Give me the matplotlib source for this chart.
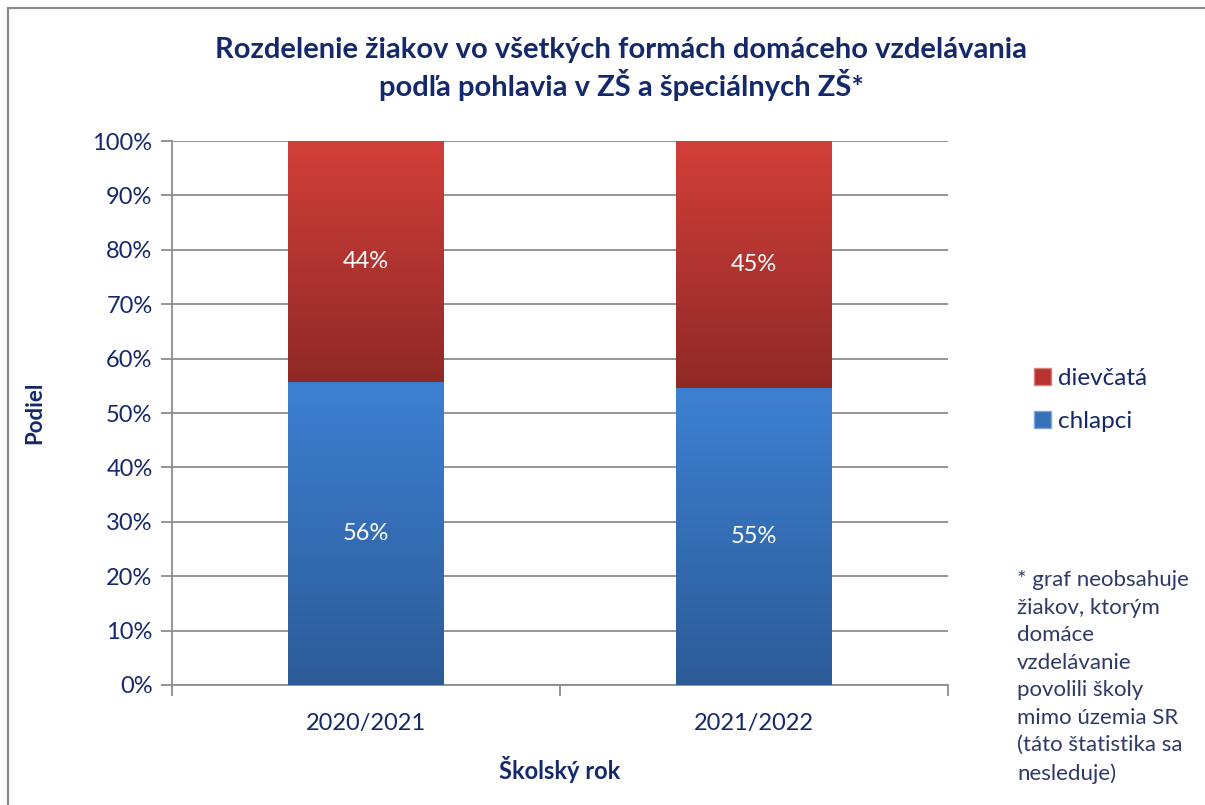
import numpy as np
import matplotlib.pyplot as plt
from matplotlib.patches import Rectangle, Patch

plt.rcParams['font.family'] = ['Lato', 'DejaVu Sans']

roky = ['2020/2021', '2021/2022']
chlapci = [55.7, 54.6]
dievcata = [44.3, 45.4]

NAVY = '#13296b'
GRID = '#8c8c8c'

fig = plt.figure(figsize=(12.05, 8.05), dpi=100)
ax = fig.add_axes([0.1427, 0.1491, 0.6440, 0.6757])

# ramik grafu
fig.patches.append(Rectangle((8 / 1205, -0.1), 1.2, (805 - 8) / 805 + 0.1,
                             transform=fig.transFigure, fill=False,
                             edgecolor='#8a8a8a', linewidth=1.6))


def gradient_bar(x, bottom, height, top_col, bot_col, width=0.4):
    bar = ax.bar(x, height, width, bottom=bottom, color=bot_col, zorder=3)[0]
    c1 = np.array(plt.matplotlib.colors.to_rgb(top_col))
    c2 = np.array(plt.matplotlib.colors.to_rgb(bot_col))
    t = np.linspace(0, 1, 256)[:, None]
    img = (c1 * (1 - t) + c2 * t)[:, None, :]
    im = ax.imshow(img, extent=[x - width / 2, x + width / 2, bottom, bottom + height],
                   aspect='auto', zorder=3.5, interpolation='bilinear')
    im.set_clip_path(bar)
    return bar


x = np.arange(len(roky))
for i in x:
    gradient_bar(i, 0, chlapci[i], '#3d80d2', '#2c5b97')
    gradient_bar(i, chlapci[i], dievcata[i], '#d23f3a', '#8f2926')
    ax.text(i, chlapci[i] / 2, f'{chlapci[i]:.0f}%', ha='center', va='center',
            color='white', fontsize=17, zorder=5)
    ax.text(i, chlapci[i] + dievcata[i] / 2, f'{dievcata[i]:.0f}%', ha='center',
            va='center', color='white', fontsize=17, zorder=5)

ax.set_xlim(-0.5, 1.5)
ax.set_ylim(0, 100)
ax.set_yticks(np.arange(0, 101, 10))
ax.set_yticklabels([f'{v}%' for v in range(0, 101, 10)])
ax.yaxis.grid(True, color=GRID, linewidth=1.3, zorder=0)
ax.set_axisbelow(True)

ax.set_xticks(x)
ax.set_xticklabels(roky)
ax.set_xticks([-0.5, 0.5, 1.5], minor=True)
ax.tick_params(axis='x', which='major', length=0, pad=20, labelsize=17, labelcolor=NAVY)
ax.tick_params(axis='x', which='minor', length=8, width=1.3, color=GRID)
ax.tick_params(axis='y', length=8, width=1.3, color=GRID, labelsize=17,
               labelcolor=NAVY, pad=6)

for s in ['top', 'right']:
    ax.spines[s].set_visible(False)
for s in ['left', 'bottom']:
    ax.spines[s].set_color(GRID)
    ax.spines[s].set_linewidth(1.3)

ax.set_xlabel('Školský rok', fontsize=17, fontweight='bold', color=NAVY, labelpad=16)
fig.text(35 / 1205, 1 - 413 / 805, 'Podiel', rotation=90, ha='center', va='center',
         fontsize=16, fontweight='bold', color=NAVY)

fig.text(621 / 1205, 1 - 69 / 805,
         'Rozdelenie žiakov vo všetkých formách domáceho vzdelávania\npodľa pohlavia v ZŠ a špeciálnych ZŠ*',
         ha='center', va='center', fontsize=21, fontweight='bold', color=NAVY,
         linespacing=1.25)

handles = [Patch(facecolor='#b8322f', edgecolor='#d9807d'),
           Patch(facecolor='#3570b8', edgecolor='#7fa6d6')]
fig.legend(handles, ['dievčatá', 'chlapci'], loc='center left',
           bbox_to_anchor=(1012 / 1205, 1 - 400 / 805), frameon=False,
           fontsize=17.5, labelcolor=NAVY, handlelength=0.7, handleheight=0.7,
           handletextpad=0.3, labelspacing=0.9)

fig.text(1017 / 1205, 1 - 570 / 805,
         '* graf neobsahuje\nžiakov, ktorým\ndomáce\nvzdelávanie\npovolili školy\nmimo územia SR\n(táto štatistika sa\nnesleduje)',
         ha='left', va='top', fontsize=16, color='#2d3a66', linespacing=1.47)

fig.savefig('out.png', dpi=100)
